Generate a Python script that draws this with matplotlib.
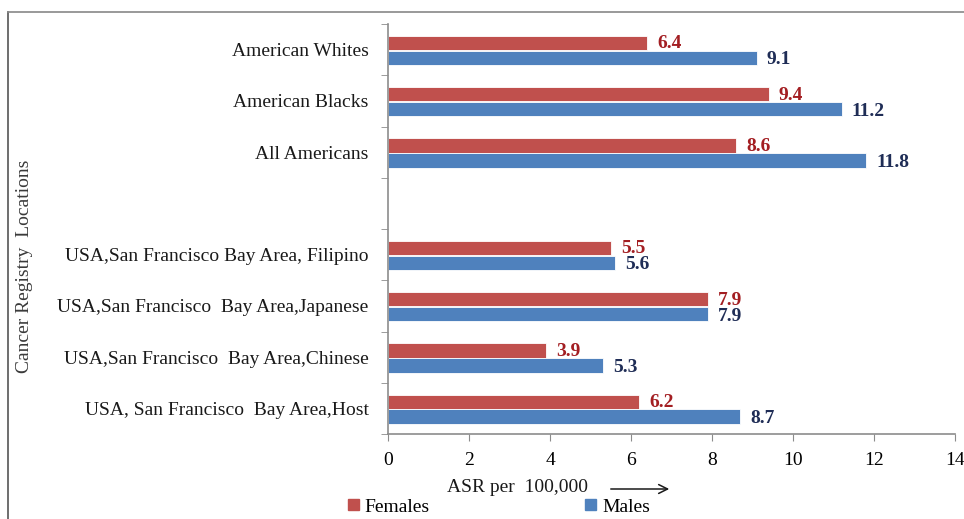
import numpy as np
import matplotlib
matplotlib.use('Agg')
import matplotlib.pyplot as plt
from matplotlib.patches import Patch
from matplotlib.lines import Line2D

plt.rcParams['font.family'] = ['Liberation Serif', 'DejaVu Serif']

# data, top to bottom ("" is the empty gap row)
locations = ["American Whites", "American Blacks", "All Americans", "",
             "USA,San Francisco Bay Area, Filipino",
             "USA,San Francisco  Bay Area,Japanese",
             "USA,San Francisco  Bay Area,Chinese",
             "USA, San Francisco  Bay Area,Host"]
females = [6.4, 9.4, 8.6, None, 5.5, 7.9, 3.9, 6.2]
males = [9.1, 11.2, 11.8, None, 5.6, 7.9, 5.3, 8.7]
xticks = [0, 2, 4, 6, 8, 10, 12, 14]

red = '#C0504D'
blue = '#4F81BD'
red_txt = '#A31E22'
blue_txt = '#1F2D56'
gray = '#8C8C8C'

fig = plt.figure(figsize=(9.64, 5.19), dpi=100)
ax = fig.add_axes([388/964, 1-434/519, (955-388)/964, (434-24)/519])

y = np.arange(len(locations))
h = 0.28
for i in range(len(locations)):
    if females[i] is None:
        continue
    ax.barh(y[i] - 0.13, females[i], height=h, color=red, edgecolor='white', linewidth=0.6)
    ax.barh(y[i] + 0.16, males[i], height=h, color=blue, edgecolor='white', linewidth=0.6)
    ax.text(females[i] + 0.25, y[i] - 0.11, '%.1f' % females[i], color=red_txt,
            fontsize=14, fontweight='bold', va='center', ha='left')
    ax.text(males[i] + 0.25, y[i] + 0.2, '%.1f' % males[i], color=blue_txt,
            fontsize=14, fontweight='bold', va='center', ha='left')

ax.set_ylim(len(locations) - 0.5, -0.5)
ax.set_xlim(0, 14)
ax.set_xticks(xticks)
ax.set_xticklabels([str(t) for t in xticks], fontsize=14)
ax.set_yticks(y)
ax.set_yticklabels(locations, fontsize=14, color='#1a1a1a')
ax.set_yticks(np.arange(-0.5, len(locations), 1.0), minor=True)
ax.tick_params(axis='y', which='major', length=0, pad=14)
ax.tick_params(axis='y', which='minor', length=5, color=gray, direction='out')
ax.tick_params(axis='x', length=5, color=gray, direction='out', pad=8)
for s in ['top', 'right']:
    ax.spines[s].set_visible(False)
for s in ['left', 'bottom']:
    ax.spines[s].set_color(gray)
    ax.spines[s].set_linewidth(1.2)

# y axis title
fig.text(25/964, 1-266/519, 'Cancer Registry  Locations', rotation=90,
         fontsize=14, color='#3a3a3a', ha='center', va='center')

# x axis title with arrow
fig.text(447/964, 1-488/519, 'ASR per  100,000', fontsize=14, color='#1a1a1a',
         ha='left', va='center')
fig.add_artist(matplotlib.patches.FancyArrowPatch(
    (608/964, 1-489/519), (672/964, 1-489/519), transform=fig.transFigure,
    arrowstyle='->', mutation_scale=16, color='#1a1a1a', linewidth=1.1))

# legend
handles = [Patch(color=red), Patch(color=blue)]
fig.legend(handles, ['Females', 'Males'], loc='center', ncol=2,
           bbox_to_anchor=(499/964, 1-507/519), frameon=False, fontsize=14,
           handlelength=0.55, handleheight=0.55, handletextpad=0.3,
           columnspacing=8.0, borderpad=0)

# outer frame (cropped at right/bottom)
fig.add_artist(Line2D([8/964, 8/964], [0, 1-12/519], transform=fig.transFigure,
                      color='#555555', linewidth=1.2))
fig.add_artist(Line2D([8/964, 1], [1-12/519, 1-12/519], transform=fig.transFigure,
                      color='#888888', linewidth=1.2))

fig.savefig('out.png', dpi=100)
